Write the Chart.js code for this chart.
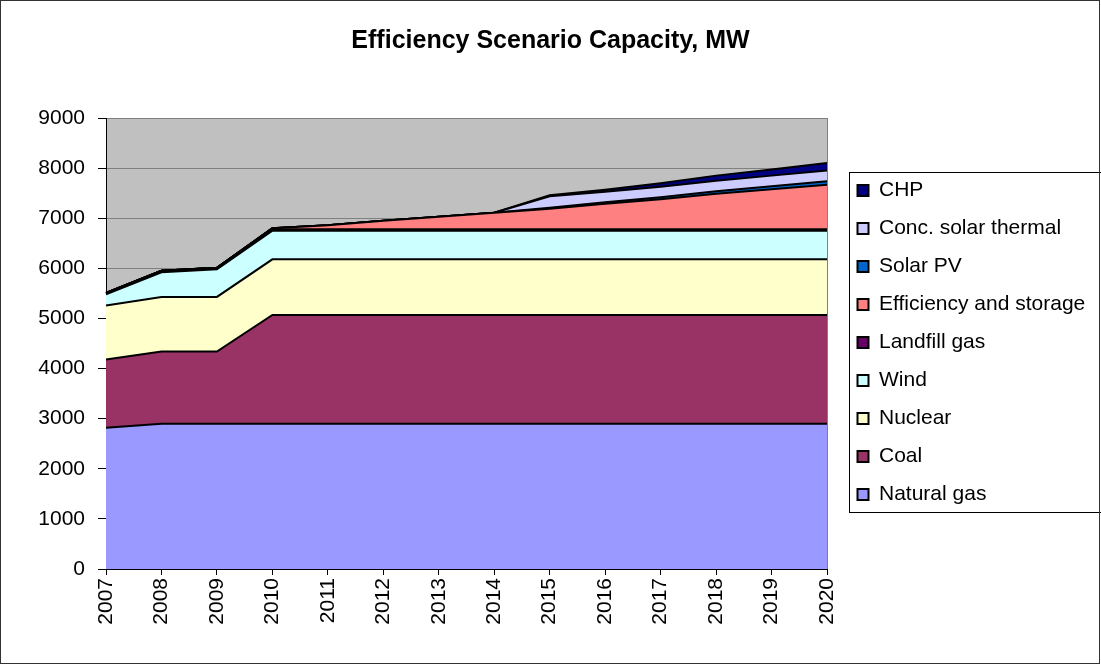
<!DOCTYPE html>
<html>
<head>
<meta charset="utf-8">
<title>Efficiency Scenario Capacity, MW</title>
<script src="https://cdn.jsdelivr.net/npm/chart.js@4.4.1/dist/chart.umd.min.js"></script>
<style>
  html, body { margin: 0; padding: 0; background: #fff; }
  #wrap { width: 1101px; height: 665px; position: relative; }
</style>
</head>
<body>
<div id="wrap"><canvas id="capacityChart"></canvas></div>
<script>
// years on the x axis
const years = ['2007', '2008', '2009', '2010', '2011', '2012', '2013', '2014', '2015', '2016', '2017', '2018', '2019', '2020'];

// capacity in MW, stacked bottom to top
const naturalGas = [2820, 2900, 2900, 2900, 2900, 2900, 2900, 2900, 2900, 2900, 2900, 2900, 2900, 2900];
const coal       = [1360, 1440, 1440, 2170, 2170, 2170, 2170, 2170, 2170, 2170, 2170, 2170, 2170, 2170];
const nuclear    = [1080, 1090, 1090, 1110, 1110, 1110, 1110, 1110, 1110, 1110, 1110, 1110, 1110, 1110];
const wind       = [220, 490, 550, 570, 570, 570, 570, 570, 570, 570, 570, 570, 570, 570];
const landfill   = [30, 30, 30, 30, 30, 30, 30, 30, 30, 30, 30, 30, 30, 30];
const efficiency = [0, 0, 0, 20, 80, 170, 250, 330, 410, 510, 600, 710, 800, 890];
const solarPV    = [0, 0, 0, 0, 0, 0, 0, 0, 20, 30, 40, 50, 60, 70];
const concSolar  = [0, 0, 0, 0, 0, 0, 0, 0, 230, 210, 210, 210, 210, 210];
const chp        = [0, 0, 0, 0, 0, 0, 0, 0, 20, 40, 70, 100, 120, 150];

const yTicks = [0, 1000, 2000, 3000, 4000, 5000, 6000, 7000, 8000, 9000];

const FONT = '"Liberation Sans", Arial, sans-serif';

function series(label, data, color, idx) {
    return {
        label: label,
        data: data,
        backgroundColor: color,
        borderColor: '#000000',
        borderWidth: 2,
        pointRadius: 0,
        pointHoverRadius: 0,
        tension: 0,
        fill: idx === 0 ? 'origin' : '-1'
    };
}

// plot area background, right border and legend frame
const excelLook = {
    id: 'excelLook',
    beforeLayout(chart) {
        const lg = chart.legend;
        if (lg && !lg._fixedFit) {
            const origFit = lg.fit.bind(lg);
            lg.fit = function () {
                origFit();
                this.width = 274;
            };
            lg._fixedFit = true;
        }
    },
    afterLayout(chart) {
        const lg = chart.legend;
        if (lg) {
            lg.left = 840.5;
            lg.right = lg.left + lg.width;
            lg.top = 163;
        }
    },
    beforeDraw(chart) {
        const { ctx, chartArea: a } = chart;
        ctx.save();
        ctx.fillStyle = '#C0C0C0';
        ctx.fillRect(a.left, a.top, a.right - a.left, a.bottom - a.top);
        ctx.restore();
    },
    afterDatasetsDraw(chart) {
        const { ctx, chartArea: a } = chart;
        ctx.save();
        ctx.strokeStyle = '#808080';
        ctx.lineWidth = 1;
        ctx.beginPath();
        ctx.moveTo(a.right + 0.5, a.top);
        ctx.lineTo(a.right + 0.5, a.bottom);
        ctx.stroke();
        ctx.restore();
    },
    afterDraw(chart) {
        const ctx = chart.ctx;
        ctx.save();
        ctx.strokeStyle = '#000000';
        ctx.lineWidth = 1;
        ctx.strokeRect(849.5, 172.5, 252, 340);
        ctx.strokeStyle = '#333333';
        ctx.strokeRect(0.5, 0.5, 1099, 663);
        ctx.restore();
    }
};

const ctx = document.getElementById('capacityChart').getContext('2d');
const capacityChart = new Chart(ctx, {
    type: 'line',
    data: {
        labels: years,
        datasets: [
            series('Natural gas', naturalGas, '#9999FF', 0),
            series('Coal', coal, '#993366', 1),
            series('Nuclear', nuclear, '#FFFFCC', 2),
            series('Wind', wind, '#CCFFFF', 3),
            series('Landfill gas', landfill, '#660066', 4),
            series('Efficiency and storage', efficiency, '#FF8080', 5),
            series('Solar PV', solarPV, '#0066CC', 6),
            series('Conc. solar thermal', concSolar, '#CCCCFF', 7),
            series('CHP', chp, '#000080', 8)
        ]
    },
    plugins: [excelLook],
    options: {
        responsive: true,
        maintainAspectRatio: false,
        animation: false,
        layout: { padding: { left: 0, right: 0, top: 0, bottom: 0 } },
        plugins: {
            title: {
                display: true,
                text: 'Efficiency Scenario Capacity, MW',
                color: '#000000',
                font: { family: FONT, size: 25, weight: 'bold' },
                padding: { top: 26, bottom: 62 }
            },
            legend: {
                display: true,
                position: 'right',
                align: 'start',
                reverse: true,
                labels: {
                    color: '#000000',
                    font: { family: FONT, size: 21 },
                    boxWidth: 11,
                    boxHeight: 11,
                    padding: 17
                }
            },
            tooltip: { enabled: false }
        },
        scales: {
            x: {
                offset: false,
                grid: {
                    offset: false,
                    drawOnChartArea: false,
                    drawTicks: true,
                    tickLength: 6,
                    tickColor: '#000000'
                },
                border: { color: '#000000', width: 1 },
                ticks: {
                    color: '#000000',
                    font: { family: FONT, size: 21 },
                    minRotation: 90,
                    maxRotation: 90,
                    autoSkip: false,
                    padding: 3
                },
                afterFit(scale) { scale.height = 96; }
            },
            y: {
                stacked: true,
                min: 0,
                max: 9000,
                afterBuildTicks(scale) {
                    scale.ticks = yTicks.map(v => ({ value: v }));
                },
                grid: {
                    color: '#808080',
                    lineWidth: 1,
                    tickLength: 8,
                    tickColor: '#000000'
                },
                border: { color: '#000000', width: 1 },
                ticks: {
                    color: '#000000',
                    font: { family: FONT, size: 21 },
                    padding: 13,
                    callback: (v) => String(v)
                },
                afterFit(scale) { scale.width = 106; }
            }
        }
    }
});
</script>
</body>
</html>
